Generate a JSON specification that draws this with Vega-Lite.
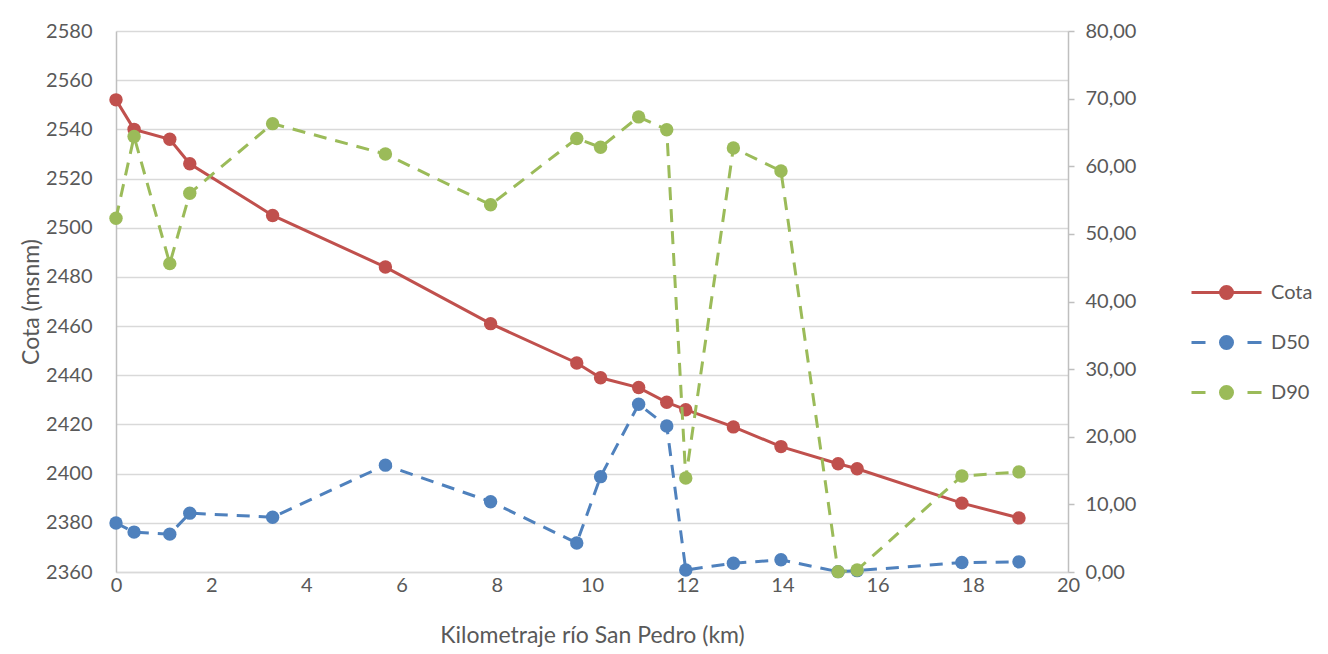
{
  "$schema": "https://vega.github.io/schema/vega-lite/v6.json",
  "width": 952,
  "height": 541,
  "autosize": {"type": "none"},
  "padding": {"left": 116, "top": 31, "right": 260, "bottom": 82},
  "background": "white",
  "config": {
    "font": "Lato",
    "view": {"stroke": null},
    "axis": {
      "labelFont": "Lato",
      "titleFont": "Lato",
      "labelColor": "#595959",
      "titleColor": "#595959",
      "labelFontSize": 20,
      "titleFontSize": 23,
      "titleFontWeight": "normal",
      "domainColor": "#BFBFBF",
      "domainWidth": 1.5,
      "tickColor": "#BFBFBF",
      "tickWidth": 1.5,
      "gridColor": "#D9D9D9",
      "gridWidth": 1.5
    },
    "legend": {"labelFont": "Lato", "labelFontSize": 20, "labelColor": "#595959"}
  },
  "data": {
    "values": [
      {"km": 0, "serie": "Cota", "valor": 2552},
      {"km": 0.38, "serie": "Cota", "valor": 2540},
      {"km": 1.13, "serie": "Cota", "valor": 2536},
      {"km": 1.55, "serie": "Cota", "valor": 2526},
      {"km": 3.29, "serie": "Cota", "valor": 2505},
      {"km": 5.66, "serie": "Cota", "valor": 2484},
      {"km": 7.87, "serie": "Cota", "valor": 2461},
      {"km": 9.68, "serie": "Cota", "valor": 2445},
      {"km": 10.18, "serie": "Cota", "valor": 2439},
      {"km": 10.98, "serie": "Cota", "valor": 2435},
      {"km": 11.57, "serie": "Cota", "valor": 2429},
      {"km": 11.97, "serie": "Cota", "valor": 2426},
      {"km": 12.97, "serie": "Cota", "valor": 2419},
      {"km": 13.97, "serie": "Cota", "valor": 2411},
      {"km": 15.17, "serie": "Cota", "valor": 2404},
      {"km": 15.57, "serie": "Cota", "valor": 2402},
      {"km": 17.77, "serie": "Cota", "valor": 2388},
      {"km": 18.97, "serie": "Cota", "valor": 2382},
      {"km": 0, "serie": "D50", "valor": 7.25},
      {"km": 0.38, "serie": "D50", "valor": 5.9},
      {"km": 1.13, "serie": "D50", "valor": 5.6},
      {"km": 1.55, "serie": "D50", "valor": 8.7},
      {"km": 3.29, "serie": "D50", "valor": 8.1},
      {"km": 5.66, "serie": "D50", "valor": 15.8},
      {"km": 7.87, "serie": "D50", "valor": 10.4},
      {"km": 9.68, "serie": "D50", "valor": 4.3},
      {"km": 10.18, "serie": "D50", "valor": 14.1},
      {"km": 10.98, "serie": "D50", "valor": 24.8},
      {"km": 11.57, "serie": "D50", "valor": 21.6},
      {"km": 11.97, "serie": "D50", "valor": 0.3},
      {"km": 12.97, "serie": "D50", "valor": 1.3},
      {"km": 13.97, "serie": "D50", "valor": 1.8},
      {"km": 15.17, "serie": "D50", "valor": 0.05},
      {"km": 15.57, "serie": "D50", "valor": 0.2},
      {"km": 17.77, "serie": "D50", "valor": 1.4},
      {"km": 18.97, "serie": "D50", "valor": 1.5},
      {"km": 0, "serie": "D90", "valor": 52.3},
      {"km": 0.38, "serie": "D90", "valor": 64.4},
      {"km": 1.13, "serie": "D90", "valor": 45.6},
      {"km": 1.55, "serie": "D90", "valor": 56.0},
      {"km": 3.29, "serie": "D90", "valor": 66.3},
      {"km": 5.66, "serie": "D90", "valor": 61.8},
      {"km": 7.87, "serie": "D90", "valor": 54.3},
      {"km": 9.68, "serie": "D90", "valor": 64.1},
      {"km": 10.18, "serie": "D90", "valor": 62.8},
      {"km": 10.98, "serie": "D90", "valor": 67.3},
      {"km": 11.57, "serie": "D90", "valor": 65.4},
      {"km": 11.97, "serie": "D90", "valor": 13.9},
      {"km": 12.97, "serie": "D90", "valor": 62.7},
      {"km": 13.97, "serie": "D90", "valor": 59.3},
      {"km": 15.17, "serie": "D90", "valor": 0.05},
      {"km": 15.57, "serie": "D90", "valor": 0.3},
      {"km": 17.77, "serie": "D90", "valor": 14.2},
      {"km": 18.97, "serie": "D90", "valor": 14.8}
    ]
  },
  "encoding": {
    "x": {
      "field": "km",
      "type": "quantitative",
      "scale": {"domain": [0, 20], "nice": false, "zero": false},
      "axis": {
        "title": "Kilometraje río San Pedro (km)",
        "values": [0, 2, 4, 6, 8, 10, 12, 14, 16, 18, 20],
        "format": "d",
        "labelFlush": false,
        "grid": false,
        "ticks": false,
        "domainColor": "#D9D9D9",
        "labelPadding": 3,
        "titlePadding": 29
      }
    },
    "color": {
      "field": "serie",
      "type": "nominal",
      "scale": {"domain": ["Cota", "D50", "D90"], "range": ["#C0504D", "#4F81BD", "#9BBB59"]},
      "legend": {
        "title": null,
        "orient": "none",
        "legendX": 1099,
        "legendY": 250,
        "padding": 0,
        "symbolSize": 400,
        "symbolStrokeWidth": 3,
        "labelOffset": 33,
        "rowPadding": 25,
        "encode": {
          "symbols": {
            "update": {
              "shape": {"signal": "datum.value === 'Cota' ? 'M-3.5,0H3.5M-0.6,0A0.6,0.6,0,1,0,0.6,0A0.6,0.6,0,1,0,-0.6,0Z' : 'M-3.5,0H-2.1M2.1,0H3.5M-0.6,0A0.6,0.6,0,1,0,0.6,0A0.6,0.6,0,1,0,-0.6,0Z'"},
              "fill": {"signal": "datum.value === 'Cota' ? '#C0504D' : datum.value === 'D50' ? '#4F81BD' : '#9BBB59'"},
              "stroke": {"signal": "datum.value === 'Cota' ? '#C0504D' : datum.value === 'D50' ? '#4F81BD' : '#9BBB59'"},
              "strokeWidth": {"value": 3},
              "opacity": {"value": 1},
              "fillOpacity": {"value": 1}
            }
          }
        }
      }
    }
  },
  "layer": [
    {
      "transform": [{"filter": "datum.serie === 'Cota'"}],
      "mark": {"type": "line", "strokeWidth": 3, "point": {"filled": true, "size": 180, "opacity": 1}},
      "encoding": {
        "y": {
          "field": "valor",
          "type": "quantitative",
          "scale": {"domain": [2360, 2580], "nice": false, "zero": false},
          "axis": {
            "title": "Cota (msnm)",
            "orient": "left",
            "values": [2360, 2380, 2400, 2420, 2440, 2460, 2480, 2500, 2520, 2540, 2560, 2580],
            "format": "d",
            "grid": true,
            "ticks": false,
            "labelPadding": 24,
            "titlePadding": 2
          }
        }
      }
    },
    {
      "transform": [{"filter": "datum.serie !== 'Cota'"}],
      "mark": {"type": "line", "strokeWidth": 3, "strokeDash": [13, 9], "point": {"filled": true, "size": 180, "opacity": 1}},
      "encoding": {
        "y": {
          "field": "valor",
          "type": "quantitative",
          "scale": {"domain": [0, 80], "nice": false, "zero": true},
          "axis": {
            "title": null,
            "orient": "right",
            "values": [0, 10, 20, 30, 40, 50, 60, 70, 80],
            "labelExpr": "replace(format(datum.value, '.2f'), '.', ',')",
            "grid": false,
            "ticks": true,
            "tickSize": 6,
            "labelPadding": 11
          }
        }
      }
    }
  ],
  "resolve": {"scale": {"y": "independent"}, "axis": {"y": "independent"}}
}
